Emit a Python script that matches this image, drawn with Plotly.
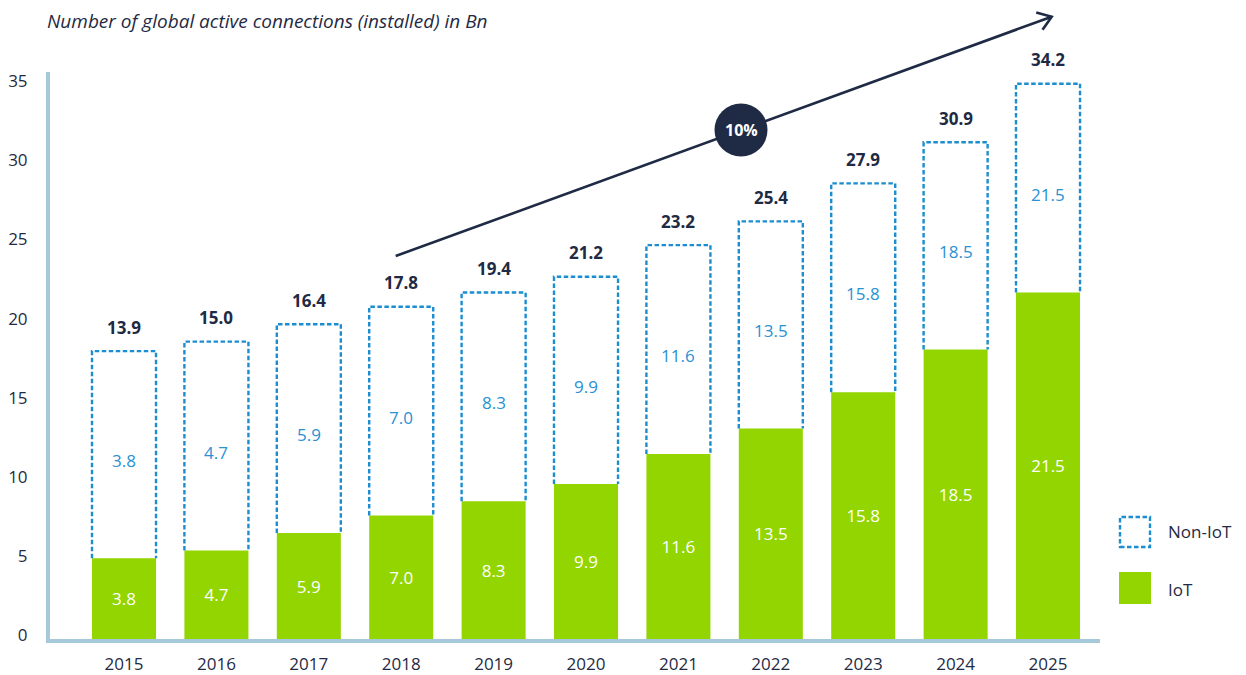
import math
import plotly.graph_objects as go

# ---------------- data ----------------
years = ["2015", "2016", "2017", "2018", "2019", "2020", "2021", "2022", "2023", "2024", "2025"]
# bar heights as drawn in the reference
iot_bar = [5.1, 5.6, 6.7, 7.8, 8.7, 9.8, 11.7, 13.3, 15.6, 18.3, 21.9]
non_iot_bar = [13.1, 13.2, 13.2, 13.2, 13.2, 13.1, 13.2, 13.1, 13.2, 13.1, 13.2]
# labels as printed in the reference
iot_labels = ["3.8", "4.7", "5.9", "7.0", "8.3", "9.9", "11.6", "13.5", "15.8", "18.5", "21.5"]
non_iot_labels = ["3.8", "4.7", "5.9", "7.0", "8.3", "9.9", "11.6", "13.5", "15.8", "18.5", "21.5"]
total_labels = ["13.9", "15.0", "16.4", "17.8", "19.4", "21.2", "23.2", "25.4", "27.9", "30.9", "34.2"]
cagr_label = "10%"
y_ticks = [0, 5, 10, 15, 20, 25, 30, 35]

# ---------------- style ----------------
FONT = "Open Sans"
DARK = "#1f2a44"
GREEN = "#93d500"
BLUE = "#1b8dd0"
BLUE_TXT = "#2a91d3"
AXIS = "#a5c9d9"

OFF = 8  # page body margin of the html page
W, H = 1246 - OFF, 675 - OFF
ML, MR, MT, MB = 50 - OFF, 146, 72 - OFF, 36
PW, PH = W - ML - MR, H - MT - MB
BAR_W = 0.693


def px(x):
    """page x pixel -> paper"""
    return (x - OFF - ML) / PW


def py(y):
    """page y pixel -> paper"""
    return (OFF + MT + PH - y) / PH


x_idx = list(range(len(years)))

fig = go.Figure()

fig.add_trace(go.Bar(
    x=x_idx, y=iot_bar, width=BAR_W,
    marker=dict(color=GREEN, line=dict(width=0)),
    text=iot_labels, textposition="inside", insidetextanchor="middle",
    textfont=dict(family=FONT, size=17, color="white"),
    name="IoT", hoverinfo="skip",
))

# dashed outline for the Non-IoT part
for i, (b, n) in enumerate(zip(iot_bar, non_iot_bar)):
    top = b + n
    fig.add_trace(go.Scatter(
        x=[i - BAR_W / 2, i - BAR_W / 2, i + BAR_W / 2, i + BAR_W / 2],
        y=[b, top, top, b],
        mode="lines",
        line=dict(color=BLUE, width=2.4, dash="4.5px,2.5px"),
        hoverinfo="skip", showlegend=False,
    ))

annotations = []
for i, (b, n) in enumerate(zip(iot_bar, non_iot_bar)):
    annotations.append(dict(
        x=i, y=b + n / 2, xref="x", yref="y", text=non_iot_labels[i],
        showarrow=False, yshift=-6, xanchor="center", yanchor="middle",
        font=dict(family=FONT, size=17, color=BLUE_TXT)))
    annotations.append(dict(
        x=i, y=b + n, xref="x", yref="y", text="<b>" + total_labels[i] + "</b>",
        showarrow=False, yshift=24, xanchor="center", yanchor="middle",
        font=dict(family=FONT, size=17, color=DARK)))

# title
annotations.append(dict(
    x=px(45), y=py(21), xref="paper", yref="paper", xanchor="left", yanchor="middle",
    text="<i>Number of global active connections (installed) in Bn</i>",
    showarrow=False, font=dict(family=FONT, size=19, color=DARK)))

# CAGR label
annotations.append(dict(
    x=px(741), y=py(130), xref="paper", yref="paper", xanchor="center", yanchor="middle",
    text="<b>" + cagr_label + "</b>", showarrow=False,
    font=dict(family=FONT, size=16, color="white")))

# legend texts
annotations.append(dict(
    x=px(1166), y=py(531), xref="paper", yref="paper", xanchor="left", yanchor="middle",
    text="Non-IoT", showarrow=False, font=dict(family=FONT, size=17, color=DARK)))
annotations.append(dict(
    x=px(1166), y=py(589), xref="paper", yref="paper", xanchor="left", yanchor="middle",
    text="IoT", showarrow=False, font=dict(family=FONT, size=17, color=DARK)))

# trend arrow geometry (page pixels)
x0a, y0a = 395.7, 256.0
x1a, y1a = 1051.7, 16.7
dx, dy = x1a - x0a, y1a - y0a
L = math.hypot(dx, dy)
ux, uy = -dx / L, -dy / L
arm = 16
ang = math.radians(35)
hx1 = x1a + arm * (ux * math.cos(ang) - uy * math.sin(ang))
hy1 = y1a + arm * (ux * math.sin(ang) + uy * math.cos(ang))
hx2 = x1a + arm * (ux * math.cos(-ang) - uy * math.sin(-ang))
hy2 = y1a + arm * (ux * math.sin(-ang) + uy * math.cos(-ang))

shapes = [
    dict(type="line", xref="paper", yref="paper",
         x0=px(x0a), y0=py(y0a), x1=px(x1a), y1=py(y1a),
         line=dict(color=DARK, width=2.6)),
    dict(type="path", xref="paper", yref="paper",
         path=f"M {px(hx1)},{py(hy1)} L {px(x1a)},{py(y1a)} L {px(hx2)},{py(hy2)}",
         line=dict(color=DARK, width=2.6)),
    dict(type="circle", xref="paper", yref="paper",
         x0=px(741 - 26.5), x1=px(741 + 26.5), y0=py(130 + 26.5), y1=py(130 - 26.5),
         fillcolor=DARK, line=dict(width=0)),
    # legend boxes
    dict(type="rect", xref="paper", yref="paper",
         x0=px(1120), x1=px(1150), y0=py(547), y1=py(517),
         line=dict(color=BLUE, width=2.4, dash="4.5px,2.5px"), fillcolor="rgba(0,0,0,0)"),
    dict(type="rect", xref="paper", yref="paper",
         x0=px(1119), x1=px(1151), y0=py(604), y1=py(572),
         line=dict(width=0), fillcolor=GREEN),
]

fig.update_layout(
    width=W, height=H,
    margin=dict(l=ML, r=MR, t=MT, b=MB, autoexpand=False),
    paper_bgcolor="white", plot_bgcolor="white",
    showlegend=False,
    font=dict(family=FONT, color=DARK),
    annotations=annotations,
    shapes=shapes,
    xaxis=dict(
        range=[-0.801, -0.801 + PW / 92.4],
        tickvals=x_idx, ticktext=years,
        showline=True, linecolor=AXIS, linewidth=4,
        showgrid=False, zeroline=False, ticks="",
        ticklabelstandoff=7,
        tickfont=dict(family=FONT, size=17, color=DARK),
        fixedrange=True,
    ),
    yaxis=dict(
        range=[0, PH / 15.82],
        tickvals=y_ticks,
        showline=True, linecolor=AXIS, linewidth=4,
        showgrid=False, zeroline=False, ticks="",
        ticklabelstandoff=15, ticklabelshift=-4,
        tickfont=dict(family=FONT, size=17, color=DARK),
        fixedrange=True,
    ),
)

fig.write_html("out.html")
